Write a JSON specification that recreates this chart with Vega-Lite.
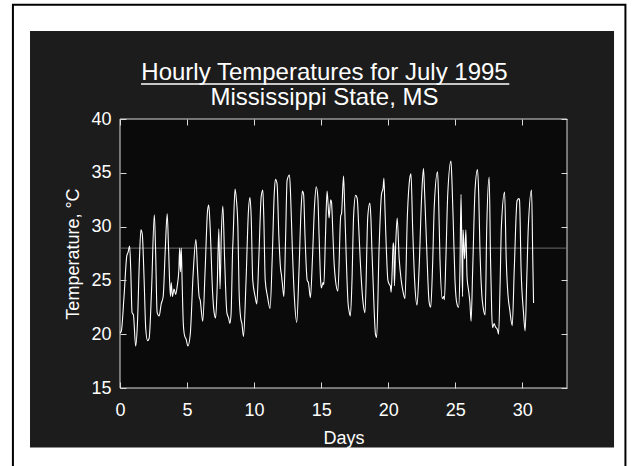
{
  "$schema": "https://vega.github.io/schema/vega-lite/v6.json",
  "width": 447,
  "height": 269,
  "autosize": {"type": "none"},
  "padding": {"left": 120, "top": 119, "right": 65, "bottom": 78},
  "background": "white",
  "title": {
    "text": "Hourly Temperatures for July 1995",
    "subtitle": "Mississippi State, MS",
    "font": "Liberation Sans",
    "fontSize": 24,
    "fontWeight": "normal",
    "color": "white",
    "subtitleFont": "Liberation Sans",
    "subtitleFontSize": 24,
    "subtitleColor": "white",
    "subtitlePadding": 1,
    "anchor": "middle",
    "dx": -19,
    "offset": -106,
    "frame": "group"
  },
  "data": {"values": [
    {"d":0,"t":20.1},{"d":0.1,"t":20.3},{"d":0.3,"t":23.5},{"d":0.51,"t":27.3},{"d":0.6,"t":27.6},{"d":0.72,"t":28.2},{"d":0.8,"t":26},{"d":0.9,"t":22},{"d":1.0,"t":21.8},{"d":1.17,"t":18.9},{"d":1.3,"t":21},{"d":1.45,"t":27},{"d":1.56,"t":29.7},{"d":1.66,"t":29.3},{"d":1.8,"t":25},{"d":1.92,"t":20.5},{"d":2.05,"t":19.4},{"d":2.17,"t":19.6},{"d":2.35,"t":24},{"d":2.56,"t":31.1},{"d":2.65,"t":28},{"d":2.77,"t":22},{"d":2.92,"t":21.7},{"d":3.07,"t":22.8},{"d":3.22,"t":23.5},{"d":3.38,"t":28},{"d":3.52,"t":31.2},{"d":3.62,"t":28},{"d":3.76,"t":23.5},{"d":3.82,"t":24.8},{"d":3.91,"t":23.5},{"d":4.03,"t":24.2},{"d":4.15,"t":23.7},{"d":4.27,"t":24.5},{"d":4.39,"t":26},{"d":4.45,"t":28},{"d":4.51,"t":25.8},{"d":4.57,"t":28},{"d":4.63,"t":25},{"d":4.72,"t":21},{"d":4.81,"t":19.9},{"d":4.94,"t":19.5},{"d":5.06,"t":18.9},{"d":5.24,"t":20},{"d":5.45,"t":25.5},{"d":5.66,"t":28.8},{"d":5.78,"t":26},{"d":5.9,"t":23.5},{"d":5.99,"t":23.1},{"d":6.08,"t":22},{"d":6.17,"t":21.2},{"d":6.35,"t":26},{"d":6.53,"t":31.5},{"d":6.62,"t":32.0},{"d":6.72,"t":30},{"d":6.9,"t":24},{"d":7.02,"t":22},{"d":7.13,"t":21.5},{"d":7.25,"t":24.5},{"d":7.37,"t":29.8},{"d":7.46,"t":24.2},{"d":7.55,"t":29},{"d":7.67,"t":31.9},{"d":7.8,"t":27},{"d":7.97,"t":22},{"d":8.1,"t":21.5},{"d":8.19,"t":21.0},{"d":8.28,"t":21.8},{"d":8.4,"t":27.9},{"d":8.43,"t":28.8},{"d":8.58,"t":33.5},{"d":8.68,"t":32.5},{"d":8.79,"t":30},{"d":8.88,"t":24},{"d":9.0,"t":21.5},{"d":9.09,"t":21},{"d":9.21,"t":19.8},{"d":9.4,"t":25},{"d":9.58,"t":31.5},{"d":9.69,"t":32.7},{"d":9.78,"t":31},{"d":9.9,"t":25},{"d":10.08,"t":23.5},{"d":10.2,"t":22.8},{"d":10.35,"t":27},{"d":10.53,"t":32.8},{"d":10.65,"t":33.4},{"d":10.72,"t":31},{"d":10.83,"t":25},{"d":11.0,"t":23.5},{"d":11.19,"t":22.4},{"d":11.35,"t":27},{"d":11.5,"t":33},{"d":11.59,"t":34.4},{"d":11.71,"t":34},{"d":11.85,"t":29},{"d":11.98,"t":26},{"d":12.04,"t":25.5},{"d":12.1,"t":24.8},{"d":12.22,"t":23.5},{"d":12.35,"t":29},{"d":12.46,"t":34.3},{"d":12.64,"t":34.8},{"d":12.72,"t":33},{"d":12.85,"t":28},{"d":13.0,"t":23.5},{"d":13.18,"t":21.1},{"d":13.35,"t":26},{"d":13.5,"t":31.5},{"d":13.6,"t":33.3},{"d":13.69,"t":33},{"d":13.8,"t":29},{"d":13.96,"t":25},{"d":14.05,"t":24.8},{"d":14.2,"t":23.4},{"d":14.35,"t":27},{"d":14.51,"t":32},{"d":14.63,"t":33.7},{"d":14.75,"t":32.8},{"d":14.85,"t":29},{"d":14.96,"t":25},{"d":15.02,"t":24.3},{"d":15.14,"t":24.8},{"d":15.2,"t":24.6},{"d":15.32,"t":29},{"d":15.44,"t":33.3},{"d":15.52,"t":32},{"d":15.59,"t":30.8},{"d":15.71,"t":32.5},{"d":15.77,"t":32.3},{"d":15.87,"t":29.5},{"d":15.95,"t":27},{"d":16.07,"t":25},{"d":16.25,"t":24},{"d":16.46,"t":31},{"d":16.52,"t":31.2},{"d":16.67,"t":34.7},{"d":16.75,"t":32},{"d":16.85,"t":28},{"d":17.0,"t":23},{"d":17.09,"t":22.1},{"d":17.18,"t":21.7},{"d":17.3,"t":25},{"d":17.42,"t":31},{"d":17.57,"t":32.9},{"d":17.69,"t":32.6},{"d":17.8,"t":30},{"d":17.91,"t":27},{"d":18.12,"t":23},{"d":18.27,"t":22},{"d":18.48,"t":31},{"d":18.63,"t":32.2},{"d":18.72,"t":30.5},{"d":18.78,"t":28},{"d":18.96,"t":22},{"d":19.05,"t":20},{"d":19.14,"t":19.7},{"d":19.32,"t":28},{"d":19.5,"t":33},{"d":19.62,"t":33.6},{"d":19.68,"t":34.5},{"d":19.75,"t":32},{"d":19.83,"t":29},{"d":19.98,"t":25},{"d":20.1,"t":24.6},{"d":20.16,"t":24.5},{"d":20.22,"t":23.9},{"d":20.3,"t":26},{"d":20.37,"t":28.5},{"d":20.42,"t":28.1},{"d":20.46,"t":24.5},{"d":20.55,"t":28},{"d":20.67,"t":30.8},{"d":20.82,"t":27},{"d":20.97,"t":25},{"d":21.13,"t":23.8},{"d":21.25,"t":23.3},{"d":21.43,"t":31},{"d":21.61,"t":34.5},{"d":21.7,"t":34.9},{"d":21.82,"t":30},{"d":21.97,"t":25},{"d":22.15,"t":22.7},{"d":22.3,"t":26},{"d":22.5,"t":33},{"d":22.63,"t":35.4},{"d":22.72,"t":33},{"d":22.87,"t":28},{"d":23.05,"t":23},{"d":23.17,"t":22.5},{"d":23.3,"t":26},{"d":23.44,"t":32},{"d":23.68,"t":35.1},{"d":23.75,"t":33},{"d":23.86,"t":27},{"d":24.04,"t":23.3},{"d":24.13,"t":23.5},{"d":24.19,"t":23.2},{"d":24.3,"t":27},{"d":24.44,"t":33},{"d":24.68,"t":36.1},{"d":24.76,"t":34},{"d":24.86,"t":30},{"d":24.98,"t":25},{"d":25.13,"t":22.8},{"d":25.25,"t":22.5},{"d":25.35,"t":26},{"d":25.43,"t":33},{"d":25.5,"t":27},{"d":25.55,"t":23.5},{"d":25.58,"t":29.7},{"d":25.65,"t":28},{"d":25.7,"t":27},{"d":25.79,"t":29.7},{"d":25.88,"t":25.3},{"d":26.0,"t":24},{"d":26.09,"t":23},{"d":26.18,"t":21.2},{"d":26.3,"t":26},{"d":26.48,"t":33.5},{"d":26.66,"t":35.3},{"d":26.75,"t":33},{"d":26.84,"t":28},{"d":26.99,"t":23.5},{"d":27.08,"t":22.5},{"d":27.23,"t":21.8},{"d":27.35,"t":30},{"d":27.53,"t":34.6},{"d":27.63,"t":27},{"d":27.72,"t":22},{"d":27.78,"t":20.6},{"d":27.9,"t":21},{"d":27.99,"t":20.7},{"d":28.05,"t":20.6},{"d":28.15,"t":20.4},{"d":28.23,"t":20},{"d":28.35,"t":25},{"d":28.44,"t":30},{"d":28.68,"t":33.2},{"d":28.8,"t":27},{"d":28.98,"t":23},{"d":29.04,"t":22.5},{"d":29.25,"t":20.8},{"d":29.4,"t":26},{"d":29.61,"t":32.4},{"d":29.73,"t":32.6},{"d":29.79,"t":32.5},{"d":29.91,"t":26},{"d":30.09,"t":22},{"d":30.21,"t":20.3},{"d":30.33,"t":25},{"d":30.45,"t":30},{"d":30.69,"t":33.4},{"d":30.78,"t":27},{"d":30.84,"t":22.9}
  ]},
  "layer": [
    {
      "data": {"values": [{}]},
      "mark": {"type": "rect", "fill": "transparent", "stroke": "black", "strokeWidth": 2},
      "encoding": {
        "x": {"datum": -7.985, "type": "quantitative", "scale": {"domain": [0, 33.333], "nice": false, "zero": false}, "axis": null},
        "x2": {"datum": 37.69},
        "y": {"datum": 7.0, "type": "quantitative", "scale": {"domain": [15, 40], "nice": false, "zero": false}, "axis": null},
        "y2": {"datum": 50.61}
      }
    },
    {
      "data": {"values": [{}]},
      "mark": {"type": "rect", "fill": "#1c1c1c", "strokeWidth": 0},
      "encoding": {
        "x": {"datum": -6.71, "type": "quantitative", "scale": {"domain": [0, 33.333], "nice": false, "zero": false}, "axis": null},
        "x2": {"datum": 36.84},
        "y": {"datum": 9.46, "type": "quantitative", "scale": {"domain": [15, 40], "nice": false, "zero": false}, "axis": null},
        "y2": {"datum": 48.19}
      }
    },
    {
      "data": {"values": [{}]},
      "mark": {"type": "rect", "fill": "#0a0a0a", "stroke": "#d9d9d9", "strokeWidth": 1},
      "encoding": {
        "x": {"datum": 0, "type": "quantitative", "scale": {"domain": [0, 33.333], "nice": false, "zero": false},
              "axis": {"orient": "top", "values": [0, 5, 10, 15, 20, 25, 30], "labels": false, "title": null, "offset": -6, "tickSize": 6, "zindex": 2}},
        "x2": {"datum": 33.333},
        "y": {"datum": 15, "type": "quantitative", "scale": {"domain": [15, 40], "nice": false, "zero": false},
              "axis": {"orient": "right", "values": [15, 20, 25, 30, 35, 40], "labels": false, "title": null, "offset": -6, "tickSize": 6, "zindex": 2}},
        "y2": {"datum": 40}
      }
    },
    {
      "data": {"values": [{}]},
      "mark": {"type": "rule", "color": "#6a6a6a", "strokeWidth": 1},
      "encoding": {
        "y": {"datum": 28, "type": "quantitative", "scale": {"domain": [15, 40], "nice": false, "zero": false}, "axis": null}
      }
    },
    {
      "mark": {"type": "line", "color": "white", "strokeWidth": 1.1, "interpolate": "monotone"},
      "encoding": {
        "x": {"field": "d", "type": "quantitative", "scale": {"domain": [0, 33.333], "nice": false, "zero": false},
              "axis": {"orient": "bottom", "values": [0, 5, 10, 15, 20, 25, 30], "title": "Days", "offset": -6, "tickSize": 6, "labelPadding": 13, "labelFlush": false, "titlePadding": 10, "zindex": 2}},
        "y": {"field": "t", "type": "quantitative", "scale": {"domain": [15, 40], "nice": false, "zero": false},
              "axis": {"orient": "left", "values": [15, 20, 25, 30, 35, 40], "title": "Temperature, °C", "offset": -6, "tickSize": 6, "labelPadding": 9, "labelFlush": false, "titlePadding": 8, "zindex": 2}}
      }
    },
    {
      "data": {"values": [{}]},
      "mark": {"type": "rule", "color": "white", "strokeWidth": 1.5},
      "encoding": {
        "x": {"datum": 1.567, "type": "quantitative", "scale": {"domain": [0, 33.333], "nice": false, "zero": false}, "axis": null},
        "x2": {"datum": 29.03},
        "y": {"datum": 43.26, "type": "quantitative", "scale": {"domain": [15, 40], "nice": false, "zero": false}, "axis": null}
      }
    }
  ],
  "resolve": {"axis": {"x": "independent", "y": "independent"}},
  "config": {
    "view": {"stroke": null},
    "axis": {
      "domain": false,
      "grid": false,
      "tickColor": "#d9d9d9",
      "tickWidth": 1,
      "labelColor": "white",
      "titleColor": "white",
      "labelFont": "Liberation Sans",
      "titleFont": "Liberation Sans",
      "labelFontSize": 18,
      "titleFontSize": 18,
      "titleFontWeight": "normal"
    }
  }
}
